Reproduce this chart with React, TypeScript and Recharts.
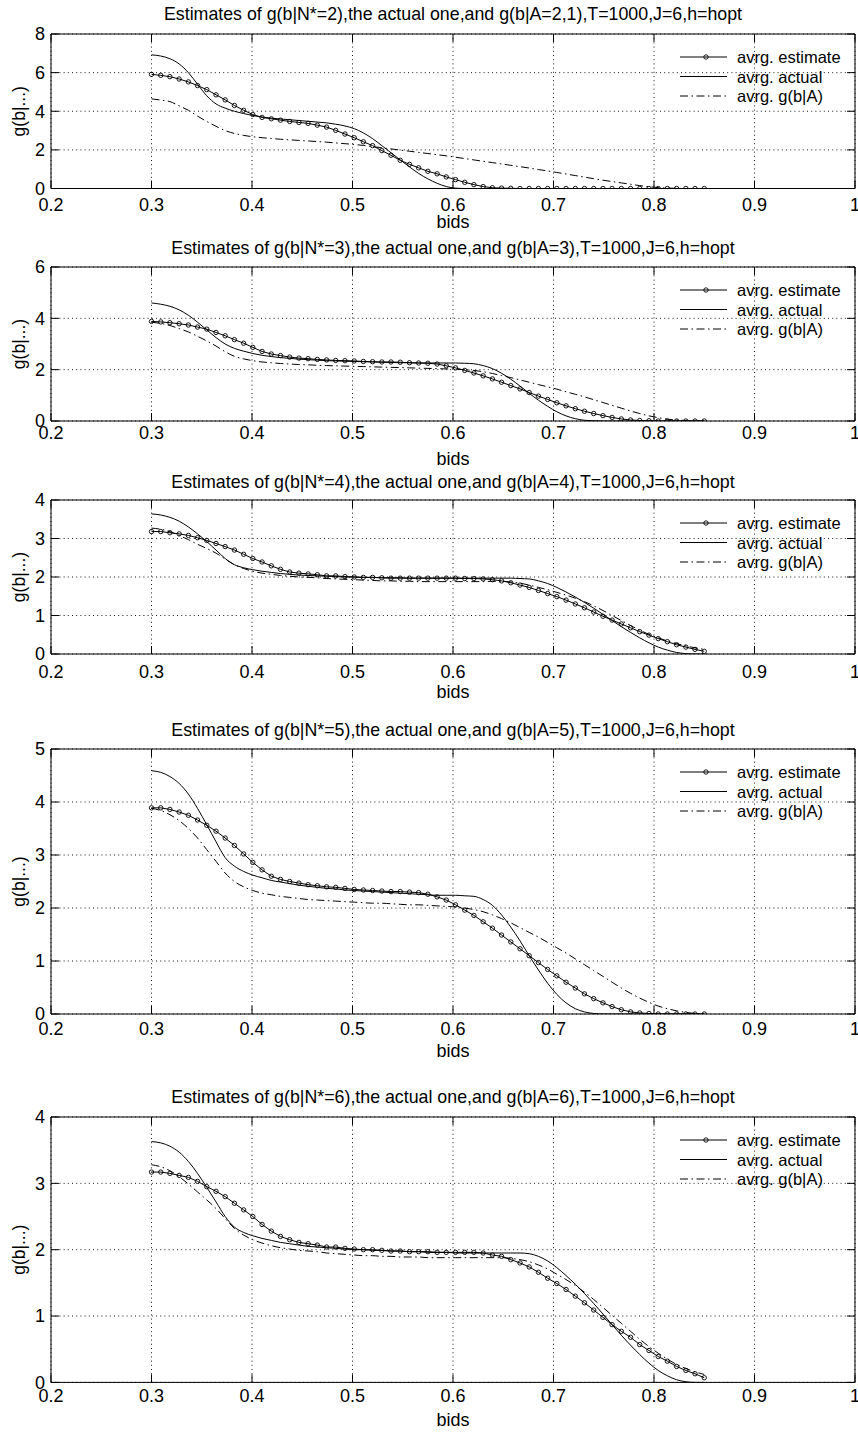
import React from 'react';
import { LineChart, Line, XAxis, YAxis, CartesianGrid, Legend } from 'recharts';

const FONT = '"Liberation Sans", Arial, Helvetica, sans-serif';

// bid grid on which the averaged curves are evaluated (marker positions)
const BIDS = [
  0.3, 0.3092, 0.3183, 0.3275, 0.3367, 0.3458, 0.355, 0.3642, 0.3733, 0.3825,
  0.3917, 0.4008, 0.41, 0.4192, 0.4283, 0.4375, 0.4467, 0.4558, 0.465, 0.4742,
  0.4833, 0.4925, 0.5017, 0.5108, 0.52, 0.5292, 0.5383, 0.5475, 0.5567, 0.5658,
  0.575, 0.5842, 0.5933, 0.6025, 0.6117, 0.6208, 0.63, 0.6392, 0.6483, 0.6575,
  0.6667, 0.6758, 0.685, 0.6942, 0.7033, 0.7125, 0.7217, 0.7308, 0.74, 0.7492,
  0.7583, 0.7675, 0.7767, 0.7858, 0.795, 0.8042, 0.8133, 0.8225, 0.8317, 0.8408,
  0.85,
];

const X_TICKS = [0.2, 0.3, 0.4, 0.5, 0.6, 0.7, 0.8, 0.9, 1];
const X_LABEL = 'bids';
const Y_LABEL = 'g(b|...)';
const LEGEND_LABELS = ['avrg. estimate', 'avrg. actual', 'avrg. g(b|A)'];

const TITLES = [
  'Estimates of g(b|N*=2),the actual one,and g(b|A=2,1),T=1000,J=6,h=hopt',
  'Estimates of g(b|N*=3),the actual one,and g(b|A=3),T=1000,J=6,h=hopt',
  'Estimates of g(b|N*=4),the actual one,and g(b|A=4),T=1000,J=6,h=hopt',
  'Estimates of g(b|N*=5),the actual one,and g(b|A=5),T=1000,J=6,h=hopt',
  'Estimates of g(b|N*=6),the actual one,and g(b|A=6),T=1000,J=6,h=hopt',
];

const Y_TICKS_1 = [0, 2, 4, 6, 8];
const Y_TICKS_2 = [0, 2, 4, 6];
const Y_TICKS_3 = [0, 1, 2, 3, 4];
const Y_TICKS_4 = [0, 1, 2, 3, 4, 5];
const Y_TICKS_5 = [0, 1, 2, 3, 4];

// ---- Panel 1 (N*=2)
const P1_EST = [
  5.91, 5.86, 5.79, 5.67, 5.52, 5.33, 5.12, 4.85, 4.59, 4.30,
  4.05, 3.83, 3.68, 3.61, 3.54, 3.47, 3.42, 3.37, 3.28, 3.18,
  3.01, 2.82, 2.63, 2.42, 2.22, 1.96, 1.72, 1.46, 1.25, 1.07,
  0.89, 0.76, 0.60, 0.46, 0.32, 0.20, 0.10, 0.04, 0.02, 0.01,
  0, 0, 0, 0, 0, 0, 0, 0, 0, 0,
  0, 0, 0, 0, 0, 0, 0, 0, 0, 0,
  0,
];
const P1_ACT = [
  6.92, 6.86, 6.72, 6.45, 6.00, 5.40, 4.80, 4.38, 4.16, 4.00,
  3.88, 3.78, 3.70, 3.64, 3.60, 3.56, 3.52, 3.48, 3.44, 3.40,
  3.33, 3.24, 3.10, 2.88, 2.58, 2.22, 1.85, 1.48, 1.12, 0.78,
  0.50, 0.27, 0.10, 0.02, 0, 0, 0, 0, 0, 0,
  0, 0, 0, 0, 0, 0, 0, 0, 0, 0,
  0, 0, 0, 0, 0, 0, 0, 0, 0, 0,
  0,
];
const P1_GBA = [
  4.64, 4.58, 4.50, 4.28, 4.05, 3.75, 3.47, 3.22, 3.00, 2.85,
  2.75, 2.68, 2.63, 2.59, 2.55, 2.52, 2.49, 2.46, 2.43, 2.40,
  2.36, 2.32, 2.28, 2.23, 2.17, 2.11, 2.05, 1.99, 1.93, 1.87,
  1.81, 1.75, 1.69, 1.62, 1.55, 1.48, 1.41, 1.34, 1.27, 1.20,
  1.13, 1.06, 0.98, 0.91, 0.83, 0.75, 0.67, 0.59, 0.51, 0.43,
  0.36, 0.29, 0.22, 0.15, 0.09, 0.05, 0.02, 0.01, 0, 0,
  0,
];

// ---- Panel 2 (N*=3)
const P2_EST = [
  3.88, 3.86, 3.83, 3.79, 3.74, 3.66, 3.58, 3.45, 3.32, 3.17,
  3.03, 2.87, 2.71, 2.61, 2.55, 2.49, 2.45, 2.43, 2.40, 2.38,
  2.36, 2.35, 2.34, 2.32, 2.31, 2.30, 2.30, 2.29, 2.27, 2.26,
  2.25, 2.22, 2.15, 2.07, 1.97, 1.87, 1.76, 1.64, 1.51, 1.38,
  1.25, 1.11, 0.97, 0.84, 0.71, 0.59, 0.48, 0.38, 0.29, 0.21,
  0.14, 0.08, 0.04, 0.02, 0.01, 0, 0, 0, 0, 0,
  0,
];
const P2_ACT = [
  4.60, 4.55, 4.47, 4.33, 4.12, 3.85, 3.55, 3.25, 3.00, 2.83,
  2.72, 2.63, 2.56, 2.51, 2.47, 2.44, 2.41, 2.39, 2.37, 2.35,
  2.34, 2.33, 2.32, 2.31, 2.30, 2.29, 2.28, 2.27, 2.27, 2.26,
  2.26, 2.26, 2.26, 2.26, 2.25, 2.23, 2.16, 2.04, 1.86, 1.63,
  1.36, 1.08, 0.81, 0.57, 0.36, 0.20, 0.09, 0.03, 0.01, 0,
  0, 0, 0, 0, 0, 0, 0, 0, 0, 0,
  0,
];
const P2_GBA = [
  3.85, 3.80, 3.72, 3.60, 3.47, 3.30, 3.12, 2.92, 2.70, 2.52,
  2.42, 2.35, 2.30, 2.27, 2.24, 2.22, 2.20, 2.19, 2.17, 2.16,
  2.15, 2.14, 2.13, 2.12, 2.11, 2.10, 2.09, 2.08, 2.07, 2.06,
  2.05, 2.04, 2.03, 2.02, 2.00, 1.97, 1.92, 1.85, 1.77, 1.69,
  1.60, 1.51, 1.42, 1.33, 1.24, 1.14, 1.04, 0.94, 0.83, 0.72,
  0.61, 0.50, 0.39, 0.29, 0.20, 0.13, 0.07, 0.04, 0.02, 0.01,
  0,
];

// ---- Panel 3 (N*=4)
const P3_EST = [
  3.18, 3.18, 3.15, 3.12, 3.08, 3.02, 2.95, 2.87, 2.79, 2.70,
  2.59, 2.48, 2.39, 2.29, 2.20, 2.13, 2.10, 2.08, 2.06, 2.03,
  2.03, 2.01, 2.00, 1.99, 1.99, 1.98, 1.97, 1.97, 1.97, 1.97,
  1.97, 1.97, 1.97, 1.97, 1.96, 1.96, 1.95, 1.93, 1.90, 1.85,
  1.79, 1.73, 1.65, 1.57, 1.49, 1.40, 1.30, 1.20, 1.09, 0.98,
  0.88, 0.78, 0.68, 0.58, 0.49, 0.40, 0.32, 0.24, 0.18, 0.12,
  0.07,
];
const P3_ACT = [
  3.64, 3.61, 3.55, 3.45, 3.30, 3.12, 2.92, 2.70, 2.48, 2.32,
  2.24, 2.19, 2.15, 2.12, 2.09, 2.07, 2.05, 2.04, 2.03, 2.02,
  2.01, 2.00, 2.00, 1.99, 1.99, 1.98, 1.98, 1.98, 1.97, 1.97,
  1.97, 1.97, 1.97, 1.97, 1.97, 1.97, 1.97, 1.97, 1.97, 1.97,
  1.96, 1.95, 1.90, 1.83, 1.73, 1.61, 1.48, 1.34, 1.19, 1.03,
  0.87, 0.71, 0.56, 0.42, 0.29, 0.18, 0.10, 0.04, 0.01, 0,
  0,
];
const P3_GBA = [
  3.27, 3.24, 3.18, 3.08, 2.97, 2.85, 2.74, 2.62, 2.47, 2.32,
  2.22, 2.15, 2.10, 2.07, 2.04, 2.02, 2.00, 1.99, 1.98, 1.96,
  1.95, 1.94, 1.93, 1.92, 1.91, 1.90, 1.90, 1.89, 1.89, 1.88,
  1.88, 1.88, 1.88, 1.88, 1.88, 1.88, 1.88, 1.89, 1.89, 1.87,
  1.84, 1.79, 1.73, 1.67, 1.60, 1.53, 1.45, 1.36, 1.25, 1.13,
  1.00, 0.87, 0.74, 0.62, 0.51, 0.42, 0.34, 0.27, 0.21, 0.16,
  0.12,
];

// ---- Panel 4 (N*=5)
const P4_EST = [
  3.89, 3.89, 3.86, 3.81, 3.75, 3.66, 3.56, 3.45, 3.32, 3.18,
  3.02, 2.86, 2.72, 2.60, 2.54, 2.50, 2.47, 2.44, 2.42, 2.40,
  2.39, 2.37, 2.35, 2.34, 2.33, 2.32, 2.31, 2.31, 2.30, 2.29,
  2.26, 2.21, 2.15, 2.06, 1.96, 1.86, 1.74, 1.62, 1.49, 1.36,
  1.23, 1.10, 0.97, 0.84, 0.72, 0.60, 0.49, 0.38, 0.29, 0.21,
  0.14, 0.08, 0.04, 0.02, 0.01, 0, 0, 0, 0, 0,
  0,
];
const P4_ACT = [
  4.59, 4.56, 4.48, 4.35, 4.15, 3.88, 3.57, 3.25, 2.95, 2.79,
  2.69, 2.62, 2.57, 2.52, 2.49, 2.46, 2.43, 2.41, 2.39, 2.37,
  2.36, 2.34, 2.33, 2.32, 2.31, 2.30, 2.29, 2.28, 2.27, 2.26,
  2.25, 2.24, 2.24, 2.24, 2.23, 2.22, 2.16, 2.05, 1.87, 1.64,
  1.38, 1.10, 0.83, 0.58, 0.37, 0.21, 0.10, 0.04, 0.01, 0,
  0, 0, 0, 0, 0, 0, 0, 0, 0, 0,
  0,
];
const P4_GBA = [
  3.88, 3.84, 3.76, 3.65, 3.50, 3.32, 3.10, 2.88, 2.66, 2.50,
  2.40, 2.33, 2.28, 2.25, 2.22, 2.20, 2.18, 2.16, 2.15, 2.14,
  2.13, 2.12, 2.11, 2.10, 2.09, 2.09, 2.08, 2.07, 2.06, 2.06,
  2.05, 2.04, 2.03, 2.02, 2.00, 1.97, 1.93, 1.87, 1.80, 1.72,
  1.63, 1.54, 1.45, 1.35, 1.25, 1.15, 1.04, 0.93, 0.82, 0.71,
  0.60, 0.49, 0.39, 0.30, 0.22, 0.15, 0.10, 0.06, 0.03, 0.01,
  0,
];

// ---- Panel 5 (N*=6)
const P5_EST = [
  3.17, 3.17, 3.15, 3.12, 3.09, 3.03, 2.95, 2.88, 2.80, 2.70,
  2.60, 2.50, 2.38, 2.28, 2.20, 2.15, 2.11, 2.09, 2.07, 2.04,
  2.04, 2.02, 2.01, 2.00, 2.00, 1.99, 1.98, 1.98, 1.97, 1.97,
  1.97, 1.96, 1.96, 1.96, 1.96, 1.96, 1.95, 1.92, 1.90, 1.85,
  1.80, 1.74, 1.66, 1.57, 1.49, 1.40, 1.30, 1.20, 1.09, 0.98,
  0.87, 0.77, 0.68, 0.57, 0.48, 0.39, 0.32, 0.24, 0.18, 0.13,
  0.07,
];
const P5_ACT = [
  3.63, 3.61, 3.56, 3.47, 3.33, 3.15, 2.94, 2.72, 2.50, 2.34,
  2.26, 2.21, 2.17, 2.14, 2.11, 2.09, 2.07, 2.05, 2.04, 2.03,
  2.02, 2.01, 2.00, 2.00, 1.99, 1.99, 1.98, 1.98, 1.97, 1.97,
  1.96, 1.96, 1.96, 1.95, 1.95, 1.95, 1.95, 1.95, 1.95, 1.95,
  1.95, 1.94, 1.90, 1.83, 1.73, 1.61, 1.48, 1.34, 1.19, 1.03,
  0.87, 0.71, 0.56, 0.42, 0.29, 0.18, 0.10, 0.04, 0.01, 0,
  0,
];
const P5_GBA = [
  3.28, 3.25, 3.19, 3.10, 2.99, 2.87, 2.75, 2.62, 2.47, 2.32,
  2.22, 2.15, 2.10, 2.06, 2.03, 2.01, 1.99, 1.98, 1.97, 1.95,
  1.94, 1.93, 1.92, 1.91, 1.91, 1.90, 1.90, 1.89, 1.89, 1.89,
  1.88, 1.88, 1.88, 1.88, 1.88, 1.88, 1.88, 1.88, 1.88, 1.87,
  1.85, 1.82, 1.77, 1.71, 1.63, 1.55, 1.46, 1.36, 1.25, 1.13,
  1.01, 0.89, 0.77, 0.65, 0.54, 0.44, 0.35, 0.27, 0.21, 0.16,
  0.12,
];

const SERIES = [
  { est: P1_EST, act: P1_ACT, gba: P1_GBA, yTicks: Y_TICKS_1 },
  { est: P2_EST, act: P2_ACT, gba: P2_GBA, yTicks: Y_TICKS_2 },
  { est: P3_EST, act: P3_ACT, gba: P3_GBA, yTicks: Y_TICKS_3 },
  { est: P4_EST, act: P4_ACT, gba: P4_GBA, yTicks: Y_TICKS_4 },
  { est: P5_EST, act: P5_ACT, gba: P5_GBA, yTicks: Y_TICKS_5 },
];

// layout (pixel geometry of each subplot)
const LAYOUT = [
  { top: 34, h: 154.5, tickGap: 10, labelGap: 27, titleGap: 14 },
  { top: 267.3, h: 154, tickGap: 5.5, labelGap: 31, titleGap: 13.3 },
  { top: 500, h: 154, tickGap: 11, labelGap: 31, titleGap: 12.5 },
  { top: 749, h: 265, tickGap: 8, labelGap: 30, titleGap: 13 },
  { top: 1117.3, h: 265.4, tickGap: 7.3, labelGap: 30.5, titleGap: 14 },
];

const W = 858;
const ML = 51;
const MR = 3;
const MT = 40;
const MB = 50;
const AX = 1; // thickness reserved for each axis (must be > 0 for the axis to render)
const DASHDOT = '8 3.5 1.5 3.5';
const TICK_STYLE = { fill: '#000', fontSize: 18, fontFamily: FONT };

const fmtX = (v: number) => (Math.abs(v - 1) < 1e-9 ? '1' : v.toFixed(1));
const fmtY = (v: number) => String(v);
const blank = () => '';

const LegendBox = () => {
  const rows = [10, 29.5, 49];
  return (
    <svg width={180} height={62} style={{ overflow: 'visible', display: 'block' }}>
      {LEGEND_LABELS.map((lab, i) => (
        <g key={lab}>
          <line
            x1={4}
            x2={51}
            y1={rows[i]}
            y2={rows[i]}
            stroke="#000"
            strokeWidth={1}
            strokeDasharray={i === 2 ? DASHDOT : undefined}
          />
          {i === 0 && <circle cx={30} cy={rows[i]} r={2.2} fill="none" stroke="#000" strokeWidth={0.9} />}
          <text x={61} y={rows[i] + 6} fontSize={16.5} fontFamily={FONT} fill="#000">
            {lab}
          </text>
        </g>
      ))}
    </svg>
  );
};

function Panel({ idx }: { idx: number }) {
  const s = SERIES[idx];
  const L = LAYOUT[idx];
  const data = BIDS.map((b, i) => ({ b, est: s.est[i], act: s.act[i], gba: s.gba[i] }));
  const H = MT + L.h + MB;
  const yMax = s.yTicks[s.yTicks.length - 1];
  return (
    <div style={{ position: 'absolute', left: 0, top: L.top - MT, width: W, height: H }}>
      <LineChart
        width={W}
        height={H}
        data={data}
        margin={{ top: MT - AX, right: MR - AX, bottom: MB - AX, left: ML - AX }}
      >
        <CartesianGrid stroke="#000" strokeWidth={0.9} strokeDasharray="1 3.2" />
        <XAxis
          dataKey="b"
          type="number"
          domain={[0.2, 1]}
          ticks={X_TICKS}
          interval={0}
          allowDataOverflow
          height={AX}
          tickSize={-8}
          tickMargin={L.tickGap + 8}
          tickFormatter={fmtX}
          tick={TICK_STYLE}
          axisLine={{ stroke: '#000' }}
          tickLine={{ stroke: '#000' }}
          label={{
            value: X_LABEL,
            position: 'bottom',
            offset: L.labelGap - AX,
            fill: '#000',
            fontSize: 18,
            fontFamily: FONT,
          }}
        />
        <XAxis
          xAxisId="top"
          orientation="top"
          dataKey="b"
          type="number"
          domain={[0.2, 1]}
          ticks={X_TICKS}
          interval={0}
          allowDataOverflow
          height={AX}
          tickSize={-8}
          tickFormatter={blank}
          tick={TICK_STYLE}
          axisLine={{ stroke: '#000' }}
          tickLine={{ stroke: '#000' }}
          label={{
            value: TITLES[idx],
            position: 'top',
            offset: L.titleGap - AX,
            fill: '#000',
            fontSize: 17.8,
            fontFamily: FONT,
          }}
        />
        <YAxis
          type="number"
          domain={[0, yMax]}
          ticks={s.yTicks}
          interval={0}
          allowDataOverflow
          width={AX}
          tickSize={-8}
          tickMargin={14}
          tickFormatter={fmtY}
          tick={TICK_STYLE}
          axisLine={{ stroke: '#000' }}
          tickLine={{ stroke: '#000' }}
          label={{
            value: Y_LABEL,
            angle: -90,
            position: 'left',
            offset: 32 - AX,
            fill: '#000',
            fontSize: 17.5,
            fontFamily: FONT,
            style: { textAnchor: 'middle' },
          }}
        />
        <YAxis
          yAxisId="right"
          orientation="right"
          type="number"
          domain={[0, yMax]}
          ticks={s.yTicks}
          interval={0}
          allowDataOverflow
          width={AX}
          tickSize={-8}
          tickFormatter={blank}
          tick={TICK_STYLE}
          axisLine={{ stroke: '#000' }}
          tickLine={{ stroke: '#000' }}
        />
        <Line
          name={LEGEND_LABELS[2]}
          dataKey="gba"
          type="monotone"
          stroke="#000"
          strokeWidth={1}
          strokeDasharray={DASHDOT}
          dot={false}
          activeDot={false}
          isAnimationActive={false}
        />
        <Line
          name={LEGEND_LABELS[1]}
          dataKey="act"
          type="monotone"
          stroke="#000"
          strokeWidth={1}
          dot={false}
          activeDot={false}
          isAnimationActive={false}
        />
        <Line
          name={LEGEND_LABELS[0]}
          dataKey="est"
          type="linear"
          stroke="#000"
          strokeWidth={1}
          dot={{ r: 2.2, stroke: '#000', strokeWidth: 0.9, fill: 'none' }}
          activeDot={false}
          isAnimationActive={false}
        />
        <Legend
          layout="vertical"
          align="center"
          verticalAlign="middle"
          wrapperStyle={{ left: 676, top: MT + 12.5, width: 180, height: 62 }}
          content={() => <LegendBox />}
        />
      </LineChart>
    </div>
  );
}

export default function App() {
  return (
    <div
      style={{
        position: 'absolute',
        left: 0,
        top: 0,
        width: W,
        height: 1433,
        background: '#fff',
        overflow: 'hidden',
        fontFamily: FONT,
      }}
    >
      {[0, 1, 2, 3, 4].map((i) => (
        <Panel key={i} idx={i} />
      ))}
    </div>
  );
}
